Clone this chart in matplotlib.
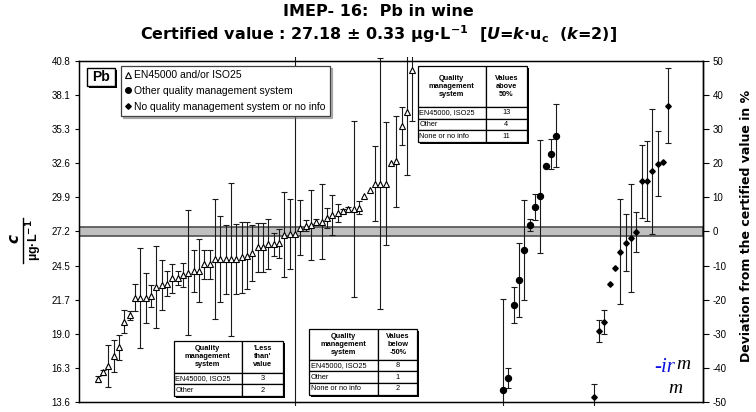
import numpy as np
import matplotlib
matplotlib.use("Agg")
import matplotlib.pyplot as plt
from matplotlib.lines import Line2D
from matplotlib.patches import Rectangle
from matplotlib.table import Table

plt.rcParams['font.family'] = ['Liberation Sans', 'DejaVu Sans']
plt.rcParams['axes.unicode_minus'] = False
plt.rcParams['mathtext.fontset'] = 'custom'
plt.rcParams['mathtext.rm'] = 'DejaVu Sans:bold'
plt.rcParams['mathtext.it'] = 'DejaVu Sans:bold:italic'
plt.rcParams['mathtext.bf'] = 'DejaVu Sans:bold'

# certified value and expanded uncertainty (ug/L)
cert = 27.18
cert_u = 0.33

# EN45000 and/or ISO25 labs, sorted (triangles)
en_vals = [15.40, 15.95, 16.45, 17.25, 17.95, 20.00, 20.50, 21.90, 21.90, 21.90,
           22.05, 22.75, 22.90, 23.00, 23.45, 23.45, 23.70, 23.90, 24.00, 24.05,
           24.57, 24.57, 24.97, 24.97, 24.97, 24.97, 24.97, 25.12, 25.25, 25.47,
           25.93, 25.93, 26.16, 26.16, 26.25, 26.92, 26.96, 27.00, 27.48, 27.64,
           27.70, 27.95, 27.95, 28.25, 28.47, 28.67, 28.81, 28.99, 28.95, 29.07,
           30.00, 30.45, 30.98, 30.98, 30.98, 32.65, 32.76, 35.57, 36.70, 40.02]
en_err = [0.25, 0.20, 1.65, 1.30, 1.00, 0.93, 0.35, 1.07, 4.00, 2.00,
          0.90, 3.25, 2.00, 1.00, 1.15, 0.55, 0.95, 5.00, 1.68, 2.52,
          1.15, 1.15, 4.80, 3.45, 2.75, 6.10, 2.80, 2.85, 2.65, 2.20,
          1.95, 1.95, 2.00, 0.90, 1.15, 3.40, 2.80, 15.0, 2.20, 0.45,
          2.80, 0.20, 3.00, 0.80, 1.60, 0.70, 0.15, 0.15, 7.00, 0.50,
          0.00, 0.00, 3.00, 10.0, 4.90, 0.00, 3.60, 1.50, 5.00, 4.00]

# other quality management system (circles)
other_vals = [14.58, 15.50, 21.32, 23.31, 25.69, 27.70, 29.12, 30.00, 32.43, 33.39, 34.81]
other_err = [7.20, 0.80, 1.45, 2.97, 4.00, 0.50, 1.03, 4.50, 0.00, 1.20, 2.50]

# no quality management system or no info (diamonds)
none_vals = [13.99, 19.28, 19.98, 22.99, 24.23, 25.58, 26.29, 26.69, 27.16,
             31.19, 31.19, 31.98, 32.59, 32.70, 37.20]
none_err = [1.00, 0.88, 0.97, 0.00, 0.00, 4.20, 2.25, 4.30, 1.60,
            2.90, 3.20, 5.00, 2.60, 0.00, 3.00]

# lab slot where each group starts (labs off scale keep their slot empty)
group_start = [3, 79, 96]
n_slots = 117

# side tables
tab_above_hdr = ["Quality\nmanagement\nsystem", "Values\nabove\n50%"]
tab_above_rows = [["EN45000, ISO25", "13"], ["Other", "4"], ["None or no info", "11"]]
tab_less_hdr = ["Quality\nmanagement\nsystem", "'Less\nthan'\nvalue"]
tab_less_rows = [["EN45000, ISO25", "3"], ["Other", "2"]]
tab_below_hdr = ["Quality\nmanagement\nsystem", "Values\nbelow\n-50%"]
tab_below_rows = [["EN45000, ISO25", "8"], ["Other", "1"], ["None or no info", "2"]]

fig = plt.figure(figsize=(7.56, 4.12), dpi=100)
ax = fig.add_axes([0.1045, 0.0243, 0.8254, 0.8277])

lo, hi = cert * 0.5, cert * 1.5
ax.set_ylim(lo, hi)
ax.set_xlim(-0.5, n_slots - 0.5)

# certified value band
ax.axhspan(cert - cert_u, cert + cert_u, facecolor='#c0c0c0', edgecolor='#505050',
           lw=1.2, zorder=1)

clip = Rectangle((0, -0.012), 1, 1.024, transform=ax.transAxes, fc='none', ec='none')

groups = [(en_vals, en_err, dict(marker='^', mfc='white', mec='black', ms=3.8, mew=0.8)),
          (other_vals, other_err, dict(marker='o', mfc='black', mec='black', ms=4.3)),
          (none_vals, none_err, dict(marker='D', mfc='black', mec='black', ms=2.8))]

for (vals, errs, style), start in zip(groups, group_start):
    v = np.array(vals)
    e = np.array(errs)
    x = start + np.arange(len(v))
    m = e > 0
    eb = ax.errorbar(x[m], v[m], yerr=e[m], fmt='none', ecolor='#1a1a1a',
                     elinewidth=0.8, capsize=2, capthick=0.8, zorder=3)
    for art in list(eb.lines[1]) + list(eb.lines[2]):
        art.set_clip_path(clip)
    ax.plot(x, v, ls='none', zorder=4, **style)

ticks = cert * (0.5 + 0.1 * np.arange(11))
ax.set_yticks(ticks)
ax.set_yticklabels(['%.1f' % t for t in ticks])
ax.set_xticks([])
ax.tick_params(axis='y', direction='out', length=3, labelsize=7, pad=3)
for s in ax.spines.values():
    s.set_linewidth(1.0)

ax2 = ax.twinx()
ax2.set_ylim(-50, 50)
ax2.set_yticks(np.arange(-50, 51, 10))
ax2.tick_params(axis='y', direction='out', length=4, labelsize=7, pad=3)
ax2.spines['right'].set_linewidth(1.0)

# legend
handles = [Line2D([], [], ls='none', marker='^', mfc='white', mec='black', ms=4, mew=0.8),
           Line2D([], [], ls='none', marker='o', color='black', ms=4),
           Line2D([], [], ls='none', marker='D', color='black', ms=2.8)]
labels = ['EN45000 and/or ISO25', 'Other quality management system',
          'No quality management system or no info']
leg = ax2.legend(handles, labels, loc='upper left', bbox_to_anchor=(0.067, 0.985),
                 fontsize=7.5, handlelength=0.6, handletextpad=0.3, borderpad=0.4,
                 labelspacing=0.55, fancybox=False, framealpha=1, borderaxespad=0,
                 shadow={'color': '#707070', 'ox': 1.5, 'oy': -1.5})
leg.get_frame().set_edgecolor('#404040')
leg.get_frame().set_linewidth(0.9)

# element box with shadow
ax2.add_patch(Rectangle((0.0160, 0.921), 0.045, 0.053, transform=ax2.transAxes,
                        fc='black', ec='none', zorder=5))
ax2.add_patch(Rectangle((0.0128, 0.927), 0.045, 0.053, transform=ax2.transAxes,
                        fc='white', ec='black', lw=1, zorder=6))
ax2.text(0.0353, 0.952, 'Pb', transform=ax2.transAxes, ha='center', va='center',
         fontsize=10, fontweight='bold', zorder=7)


def draw_table(hdr, rows, bbox, col0, hdr_h):
    x0, y0, w, h = bbox
    ax2.add_patch(Rectangle((x0 + 0.0035, y0 - 0.0065), w, h, transform=ax2.transAxes,
                            fc='black', ec='none', zorder=4))
    tb = Table(ax2, bbox=bbox)
    widths = [col0, 1 - col0]
    for c in range(2):
        cell = tb.add_cell(0, c, widths[c], hdr_h, text=hdr[c], loc='center',
                           facecolor='white', edgecolor='black')
        cell.get_text().set_fontweight('bold')
        cell.get_text().set_fontsize(5.3)
        cell.set_linewidth(0.9)
    for r, row in enumerate(rows, start=1):
        for c in range(2):
            cell = tb.add_cell(r, c, widths[c], 1, text=row[c],
                               loc='left' if c == 0 else 'center',
                               facecolor='white', edgecolor='black')
            cell.PAD = 0.02
            cell.get_text().set_fontsize(5.3)
            cell.set_linewidth(0.9)
    tb.auto_set_font_size(False)
    tb.set_zorder(5)
    ax2.add_table(tb)


draw_table(tab_above_hdr, tab_above_rows, [0.543, 0.762, 0.175, 0.223], 0.62, 3.5)
draw_table(tab_less_hdr, tab_less_rows, [0.152, 0.018, 0.175, 0.161], 0.62, 2.8)
draw_table(tab_below_hdr, tab_below_rows, [0.369, 0.021, 0.173, 0.193], 0.64, 2.6)

# titles
fig.text(0.5, 0.971, 'IMEP- 16:  Pb in wine', ha='center', va='center',
         fontsize=11.5, fontweight='bold', family='DejaVu Sans')
fig.text(0.5, 0.917,
         r'Certified value : 27.18 ± 0.33 µg·L$^{-1}$  [$U$=$k$·u$_\mathrm{c}$  ($k$=2)]',
         ha='center', va='center', fontsize=11.5, fontweight='bold', family='DejaVu Sans')

# axis labels
fig.text(0.020, 0.42, r'$c$', rotation=90, ha='center', va='center', fontsize=11)
fig.add_artist(Line2D([0.031, 0.031], [0.362, 0.47], transform=fig.transFigure,
                      color='black', lw=1))
fig.text(0.045, 0.418, r'µg·L$^{-1}$', rotation=90, ha='center', va='center',
         fontsize=9, fontweight='bold')
fig.text(0.987, 0.451, 'Deviation from the certified value in %', rotation=90,
         ha='center', va='center', fontsize=9, fontweight='bold', family='DejaVu Sans')

# irm logo
fig.text(0.866, 0.097, '-ir', color='#1010e0', fontsize=15, style='italic',
         family='Liberation Serif', ha='left', va='baseline')
fig.text(0.895, 0.104, 'm', color='black', fontsize=14, style='italic',
         family='Liberation Serif', ha='left', va='baseline')
fig.text(0.884, 0.045, 'm', color='black', fontsize=14, style='italic',
         family='Liberation Serif', ha='left', va='baseline')

fig.savefig('out.png', dpi=100, facecolor='white')
